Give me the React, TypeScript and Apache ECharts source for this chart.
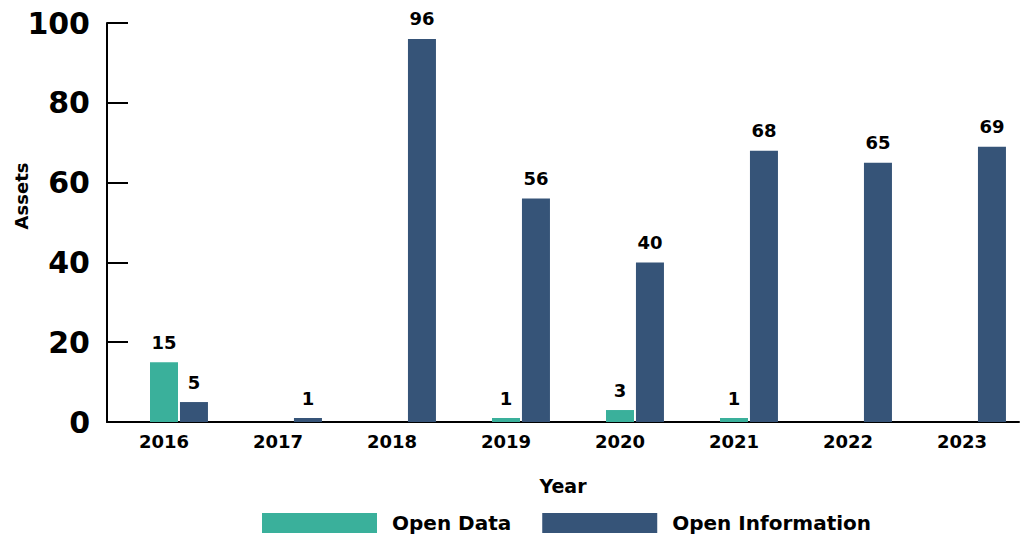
import React, { useEffect, useRef } from "react";
import * as echarts from "echarts";

const years = ["2016", "2017", "2018", "2019", "2020", "2021", "2022", "2023"];
const openData: (number | null)[] = [15, null, null, 1, 3, 1, null, null];
const openInformation: (number | null)[] = [5, 1, 96, 56, 40, 68, 65, 69];
const padding: (number | null)[] = [null, null, null, null, null, null, null, null];
const yTicks = { min: 0, max: 100, interval: 20 };
const yAxisTitle = "Assets";
const xAxisTitle = "Year";

const FONT = "DejaVu Sans";

export default function App() {
  const ref = useRef<HTMLDivElement>(null);
  useEffect(() => {
    document.body.style.margin = "0";
    if (!ref.current) return;
    const chart = echarts.init(ref.current, undefined, { renderer: "svg" });
    const labelStyle = {
      show: true,
      position: "top" as const,
      distance: 11,
      color: "#000",
      fontFamily: FONT,
      fontWeight: "bold" as const,
      fontSize: 18,
    };
    chart.setOption({
      animation: false,
      backgroundColor: "#fff",
      textStyle: { fontFamily: FONT },
      grid: { left: 107, right: 11, top: 23, bottom: 113, containLabel: false, outerBoundsMode: "none" },
      graphic: [
        {
          type: "text",
          x: 21,
          y: 196,
          rotation: Math.PI / 2,
          style: {
            text: yAxisTitle,
            fill: "#000",
            font: `bold 18px "${FONT}"`,
            textAlign: "center",
            textVerticalAlign: "middle",
          },
        },
      ],
      legend: {
        data: ["Open Data", "Open Information"],
        top: 512,
        left: 262,
        padding: 0,
        itemWidth: 115,
        itemHeight: 20,
        itemGap: 31,
        icon: "rect",
        textStyle: {
          color: "#000",
          fontFamily: FONT,
          fontWeight: "bold",
          fontSize: 20,
          lineHeight: 22,
          padding: [0, 0, 0, 10],
        },
      },
      xAxis: {
        type: "category",
        data: years,
        name: xAxisTitle,
        nameLocation: "middle",
        nameGap: 54,
        nameTextStyle: { color: "#000", fontFamily: FONT, fontWeight: "bold", fontSize: 19 },
        axisLine: { lineStyle: { color: "#000", width: 2 } },
        axisTick: { inside: true, length: 9, lineStyle: { color: "#000", width: 2 } },
        axisLabel: { color: "#000", fontFamily: FONT, fontWeight: "bold", fontSize: 18, margin: 10 },
      },
      yAxis: {
        type: "value",
        min: yTicks.min,
        max: yTicks.max,
        interval: yTicks.interval,
        axisLine: { show: true, lineStyle: { color: "#000", width: 2 } },
        axisTick: { show: true, inside: true, length: 21, lineStyle: { color: "#000", width: 2 } },
        splitLine: { show: false },
        axisLabel: { color: "#000", fontFamily: FONT, fontWeight: "bold", fontSize: 30, margin: 17 },
      },
      series: [
        {
          name: "_pad",
          type: "bar",
          data: padding,
          barWidth: 28,
          barGap: "7%",
          silent: true,
          itemStyle: { color: "transparent" },
        },
        {
          name: "Open Data",
          type: "bar",
          data: openData,
          barWidth: 28,
          barGap: "7%",
          itemStyle: { color: "#3AB09B" },
          label: labelStyle,
        },
        {
          name: "Open Information",
          type: "bar",
          data: openInformation,
          barWidth: 28,
          barGap: "7%",
          itemStyle: { color: "#365478" },
          label: labelStyle,
        },
      ],
    });
    return () => chart.dispose();
  }, []);
  return <div ref={ref} style={{ width: 1030, height: 535 }} />;
}
